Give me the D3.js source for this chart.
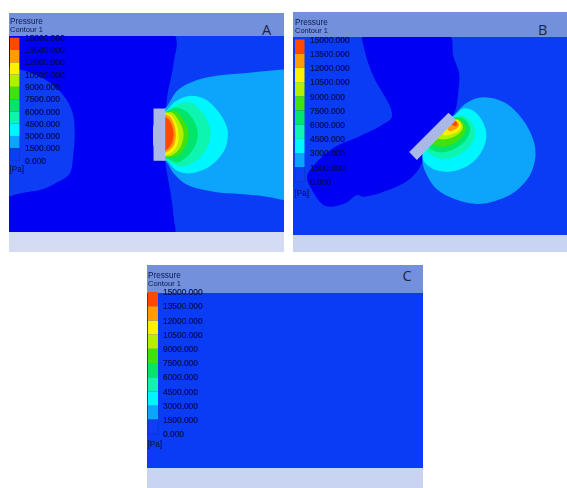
<!DOCTYPE html>
<html><head><meta charset="utf-8">
<script src="https://cdn.jsdelivr.net/npm/d3@7"></script>
<style>html,body{margin:0;padding:0;background:#fff}svg{display:block}text{font-family:"Liberation Sans",Arial,sans-serif}</style>
</head><body><svg id="c" width="567" height="488"></svg>
<script>
const legendTicks=[0,1500,3000,4500,6000,7500,9000,10500,12000,13500,15000];
const bandColors=["#0a3cf5","#08a4fb","#00f6ff","#0cf5b0","#00e56a","#3fe208","#b2f000","#fff200","#ff9c00","#ff4a06"];
const belowZero="#0000f2";

// Contours are listed from the lowest pressure band up; the band index picks the colour.
const lowA=[[27,100],[520,100],[520,190],[512,235],[505,265],[498,320],[495,480],[508,560],[516,610],[520,650],[519,710],[27,710]];
const leftBlobA=[[10,205],[60,208],[130,235],[190,285],[218,340],[224,400],[220,460],[208,522],[165,550],[120,570],[70,578],[27,590],[10,600]];
const contoursA=[
 [1,[[880,208],[851,208],[790,213],[720,220],[640,228],[575,245],[530,272],[497,322],[470,340],[470,470],[497,484],[522,522],[562,555],[640,575],[720,582],[800,590],[851,600],[880,600]]],
 [2,[[497,332],[525,304],[570,287],[615,297],[655,335],[678,375],[683,400],[675,445],[640,490],[600,513],[565,520],[530,512],[497,480],[470,470],[470,340]]],
 [3,[[497,334],[530,314],[570,306],[605,335],[625,370],[631,400],[622,440],[595,477],[555,498],[525,495],[497,478],[470,470],[470,340]]],
 [4,[[497,335],[525,322],[555,332],[580,360],[593,400],[583,440],[558,472],[530,487],[497,474],[470,470],[470,340]]],
 [5,[[497,336],[522,332],[545,352],[560,380],[565,405],[555,440],[532,468],[497,472],[470,470],[470,340]]],
 [6,[[497,337],[517,338],[535,360],[547,385],[550,405],[540,442],[517,465],[497,469],[470,470],[470,340]]],
 [7,[[497,339],[512,345],[528,370],[535,400],[530,438],[512,458],[497,464],[470,470],[470,340]]],
 [8,[[497,343],[510,350],[522,375],[527,403],[522,432],[508,450],[497,457],[470,460],[470,345]]],
 [9,[[497,352],[506,358],[516,378],[520,403],[516,426],[506,442],[497,450],[470,450],[470,355]]]
];
const plateA=[[460,325],[495,325],[495,482],[460,482]];

const lowB=[[235,100],[238,150],[265,230],[290,275],[310,310],[320,350],[290,375],[220,410],[150,440],[100,480],[65,530],[80,570],[120,618],[180,610],[215,585],[235,590],[310,570],[370,540],[405,500],[430,420],[505,345],[520,270],[522,220],[505,170],[490,100]];
const contoursB=[
 [1,[[510,342],[530,320],[565,298],[600,292],[660,308],[710,355],[745,420],[751,470],[735,525],[690,575],[630,603],[575,612],[510,598],[455,568],[425,525],[412,480],[440,410],[490,360]]],
 [2,[[510,345],[535,325],[565,332],[590,360],[604,400],[595,445],[565,485],[520,510],[480,515],[440,505],[412,475],[430,420],[480,365]]],
 [3,[[513,350],[535,347],[555,362],[568,385],[568,415],[550,445],[515,468],[480,476],[445,468],[420,445],[440,400],[490,360]]],
 [4,[[513,352],[535,355],[550,372],[555,392],[540,422],[510,445],[475,457],[445,452],[425,435],[445,400],[495,360]]],
 [5,[[515,355],[532,365],[542,382],[535,405],[510,428],[478,440],[448,436],[433,425],[450,395],[497,362]]],
 [6,[[515,358],[530,370],[533,385],[520,402],[495,415],[470,418],[450,410],[470,380],[497,362]]],
 [7,[[515,360],[528,375],[523,390],[500,402],[475,405],[480,375]]],
 [8,[[512,362],[522,376],[512,387],[492,393],[485,372]]],
 [9,[[508,362],[516,368],[513,378],[503,376],[497,368]]]
];
const plateB=[[490,338],[513,360],[395,480],[372,456]];

const panels=[
 {letter:"A",px:[9,284],py:[13,36,232,252],fx:[27,851],fy:[38,696],low:lowA,blob:leftBlobA,contours:contoursA,plate:plateA,
  bar:[10,19.4],legend:[160.5,37.7],labelX:25,pressureY:[24.2,32],paY:172,lx:262,ly:35},
 {letter:"B",px:[293,567],py:[12,37,235,252],fx:[23,846],fy:[36,705],low:lowB,blob:null,contours:contoursB,plate:plateB,
  bar:[295,304.5],legend:[181.5,39.5],labelX:310,pressureY:[25.3,33],paY:196,lx:538,ly:35},
 {letter:"C",px:[147,423],py:[265,293,468,488],fx:[0,1],fy:[0,1],low:null,blob:null,contours:[],plate:null,
  bar:[148,158],legend:[434,292],labelX:163,pressureY:[278,285.8],paY:447,lx:402.5,ly:281}
];

const svg=d3.select("#c");
const defs=svg.append("defs");
defs.append("filter").attr("id","soft").attr("x","-5%").attr("y","-5%").attr("width","110%").attr("height","110%")
 .append("feGaussianBlur").attr("stdDeviation",0.55);
defs.append("filter").attr("id","softText").attr("x","-10%").attr("y","-30%").attr("width","120%").attr("height","160%")
 .append("feGaussianBlur").attr("stdDeviation",0.28);

panels.forEach((p,i)=>{
 const g=svg.append("g");
 const [top,hdr,bot,end]=p.py, w=p.px[1]-p.px[0];
 const x=d3.scaleLinear().domain(p.fx).range([p.px[0],p.px[1]]);
 const y=d3.scaleLinear().domain(p.fy).range([top,bot]);
 g.append("rect").attr("x",p.px[0]).attr("y",top).attr("width",w).attr("height",hdr-top).attr("fill","#7290dc");
 g.append("rect").attr("x",p.px[0]).attr("y",bot).attr("width",w).attr("height",end-bot).attr("fill",i===0?"#d3dcf3":"#c8d4f1");
 g.append("rect").attr("x",p.px[0]).attr("y",hdr).attr("width",w).attr("height",bot-hdr).attr("fill",bandColors[0]);
 defs.append("clipPath").attr("id","clip"+i).append("rect").attr("x",p.px[0]).attr("y",hdr).attr("width",w).attr("height",bot-hdr);
 const clip=g.append("g").attr("clip-path",`url(#clip${i})`);
 const field=clip.append("g").attr("filter","url(#soft)");
 const line=d3.line().x(d=>x(d[0])).y(d=>y(d[1]));
 const smooth=d3.line().x(d=>x(d[0])).y(d=>y(d[1])).curve(d3.curveCatmullRomClosed.alpha(0.5));
 if(p.low) field.append("path").attr("d",smooth(p.low)).attr("fill",belowZero);
 if(p.blob) field.append("path").attr("d",smooth(p.blob)).attr("fill",bandColors[0]);
 field.selectAll("path.c").data(p.contours).join("path").attr("class","c")
  .attr("d",d=>smooth(d[1])).attr("fill",d=>bandColors[d[0]]);
 if(p.plate) field.append("path").attr("d",line(p.plate)+"Z").attr("fill","#aab8e8");

 // colour legend
 const ly=d3.scaleLinear().domain([0,15000]).range(p.legend);
 const pairs=d3.pairs(legendTicks);
 const soft=g.append("g").attr("filter","url(#softText)");
 soft.selectAll("rect.b").data(pairs).join("rect").attr("class","b")
  .attr("x",p.bar[0]).attr("width",p.bar[1]-p.bar[0])
  .attr("y",d=>ly(d[1])).attr("height",d=>ly(d[0])-ly(d[1]))
  .attr("fill",(d,k)=>bandColors[k]);
 soft.append("rect").attr("x",p.bar[0]).attr("width",p.bar[1]-p.bar[0])
  .attr("y",ly(1500)).attr("height",ly(0)-ly(1500)).attr("fill","none").attr("stroke","#1030b0").attr("stroke-width",0.5);

 const txt=g.append("g").attr("filter","url(#softText)");
 const axis=d3.axisRight(ly).tickValues(legendTicks).tickFormat(d3.format(".3f")).tickSize(0).tickPadding(0);
 const ag=txt.append("g").attr("transform",`translate(${p.labelX},0)`).call(axis);
 ag.select(".domain").remove();
 ag.selectAll("text").attr("font-size",8.4).attr("fill","#060b4a").attr("stroke","#060b4a").attr("stroke-width",0.15).attr("font-family","Liberation Sans, Arial, sans-serif");
 txt.append("text").attr("x",p.bar[0]).attr("y",p.pressureY[0]).attr("font-size",8.2).attr("fill","#0e1850").text("Pressure");
 txt.append("text").attr("x",p.bar[0]).attr("y",p.pressureY[1]).attr("font-size",7.5).attr("fill","#0e1850").text("Contour 1");
 txt.append("text").attr("x",p.bar[0]-0.5).attr("y",p.paY).attr("font-size",8.2).attr("fill","#060b4a").text("[Pa]");
 g.append("text").attr("x",p.lx).attr("y",p.ly).attr("font-size",14.5).attr("fill","#1d2440")
  .style("font-family","'Open Sans',sans-serif").text(p.letter);
});
</script></body></html>
